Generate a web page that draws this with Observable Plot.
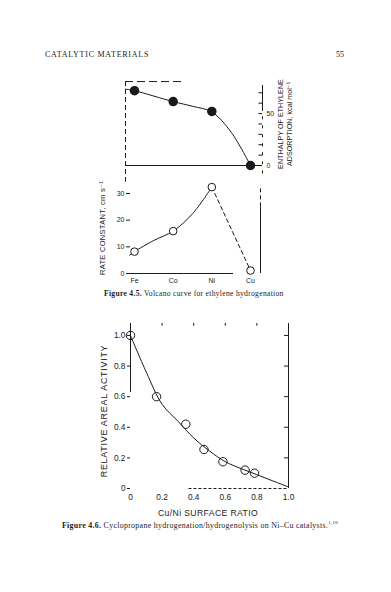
<!DOCTYPE html>
<html>
<head>
<meta charset="utf-8">
<script src="https://cdn.jsdelivr.net/npm/d3@7"></script>
<script src="https://cdn.jsdelivr.net/npm/@observablehq/plot@0.6"></script>
<style>
  html, body { margin:0; padding:0; background:#fff; }
  #page { position:relative; width:391px; height:592px; overflow:hidden; background:#fff; color:#222; }
  #page svg { position:absolute; left:0; top:0; }
  .t { position:absolute; white-space:nowrap; line-height:1; }
  .serif { font-family:"Liberation Serif","DejaVu Serif",serif; }
  .sans { font-family:"Liberation Sans","DejaVu Sans",sans-serif; }
  .rot { transform:translate(-50%,-50%) rotate(-90deg); }
  .ctr { transform:translate(-50%,-50%); }
</style>
</head>
<body>
<div id="page">
  <div class="t serif" style="left:45px;top:51px;font-size:8px;letter-spacing:0.75px;">CATALYTIC MATERIALS</div>
  <div class="t serif" style="left:336px;top:51px;font-size:8px;">55</div>

  <div class="t sans rot" style="left:281px;top:124px;font-size:7.2px;">ENTHALPY OF ETHYLENE</div>
  <div class="t sans rot" style="left:290px;top:124px;font-size:7.2px;">ADSORPTION, kcal mol⁻¹</div>
  <div class="t sans rot" style="left:103px;top:228px;font-size:7.5px;letter-spacing:0.3px;">RATE CONSTANT, cm s⁻¹</div>
  <div class="t serif" style="left:104px;top:290px;font-size:7.6px;letter-spacing:0.3px;"><b>Figure 4.5.</b> Volcano curve for ethylene hydrogenation</div>

  <div class="t sans rot" style="left:104px;top:411px;font-size:9px;letter-spacing:0.7px;">RELATIVE AREAL ACTIVITY</div>
  <div class="t sans ctr" style="left:208px;top:513px;font-size:8.6px;letter-spacing:0.4px;">Cu/Ni SURFACE RATIO</div>
  <div class="t serif" style="left:62px;top:520px;font-size:7.9px;letter-spacing:0.3px;"><b>Figure 4.6.</b> Cyclopropane hydrogenation/hydrogenolysis on Ni–Cu catalysts.<sup style="font-size:5px">1,10</sup></div>
</div>
<script>
// ---------- Data ----------
const metals = ["Fe", "Co", "Ni", "Cu"];
const metalIndex = [0, 1, 2, 3];

// Fig 4.5 top: enthalpy of ethylene adsorption (kcal/mol)
const enthalpy = [72, 61.5, 52, 0];
const enthalpyCurveX = [-0.23, 0, 1, 1.5, 2, 2.5, 3];
const enthalpyCurveY = [73.5, 72, 61.5, 57, 51.5, 32, 0];
const enthalpyTicks = [0, 10, 20, 30, 40, 50, 60, 70];
const enthalpyLabels = [0, 50];

// Fig 4.5 bottom: rate constant
const rate = [8.2, 15.9, 32.4, 1.1];
const rateCurveX = [-0.13, 0, 0.5, 1, 1.5, 2];
const rateCurveY = [6.8, 8.2, 12.4, 15.9, 22.4, 32.4];
const rateTicks = [0, 10, 20, 30];

// Fig 4.6: relative areal activity vs Cu/Ni surface ratio
const ratio = [0, 0.165, 0.35, 0.465, 0.585, 0.725, 0.785];
const activity = [1.0, 0.60, 0.42, 0.255, 0.175, 0.12, 0.10];
const activityCurveX = [0, 0.1, 0.2, 0.3, 0.4, 0.5, 0.6, 0.7, 0.8, 0.9, 1.0];
const activityCurveY = [1.0, 0.76, 0.55, 0.44, 0.33, 0.245, 0.175, 0.13, 0.09, 0.05, 0.01];
const ratioTicks = [0, 0.2, 0.4, 0.6, 0.8, 1.0];
const activityTicks = [0, 0.2, 0.4, 0.6, 0.8, 1.0];

// ---------- Layout helpers ----------
const W = 391, H = 592;
const ink = "#1a1a1a";
const pxPerMetal = (250 - 134) / 3;
const xAt = px => (px - 134) / pxPerMetal;   // pixel -> metal index domain

const page = document.getElementById("page");
const base = {width: W, height: H, style: {background: "transparent", overflow: "visible", color: ink}};

// ---------- Chart A: enthalpy ----------
const aPts = metalIndex.map((i, k) => ({x: i, y: enthalpy[k]}));
const aCurve = enthalpyCurveX.map((x, k) => ({x, y: enthalpyCurveY[k]}));
const chartA = Plot.plot({
  ...base,
  marginLeft: 125, marginRight: W - 262, marginTop: 85, marginBottom: H - 165,
  x: {domain: [xAt(125), xAt(262)], axis: null},
  y: {domain: [0, 77], axis: null},
  marks: [
    Plot.ruleX([xAt(125)], {y1: 80.8, y2: -16, stroke: ink, strokeWidth: 1, strokeDasharray: "5,3"}),
    Plot.ruleY([80.8], {x1: xAt(125), x2: xAt(182), stroke: ink, strokeWidth: 1, strokeDasharray: "8,4"}),
    Plot.ruleY([0], {x1: xAt(125), x2: xAt(262), stroke: ink, strokeWidth: 1}),
    Plot.ruleX([xAt(262)], {y1: 52, y2: 77, stroke: ink, strokeWidth: 1}),
    Plot.ruleX([xAt(262)], {y1: -8, y2: 52, stroke: ink, strokeWidth: 1, strokeDasharray: "3,6"}),
    Plot.ruleY(enthalpyTicks, {x1: xAt(258.5), x2: xAt(262), stroke: ink, strokeWidth: 1}),
    Plot.text(enthalpyLabels, {x: xAt(262), y: d => d, text: d => String(d), dx: 4, textAnchor: "start", fontSize: 6.8, fill: ink, fontFamily: "Liberation Sans"}),
    Plot.line(aCurve, {x: "x", y: "y", curve: "catmull-rom", stroke: ink, strokeWidth: 1}),
    Plot.dot(aPts, {x: "x", y: "y", r: 4, fill: ink, stroke: ink})
  ]
});
page.appendChild(chartA);

// ---------- Chart B: rate constant ----------
const bPts = metalIndex.map((i, k) => ({x: i, y: rate[k], m: metals[k]}));
const bCurve = rateCurveX.map((x, k) => ({x, y: rateCurveY[k]}));
const bDash = [{x: 2, y: rate[2]}, {x: 3, y: rate[3]}];
const chartB = Plot.plot({
  ...base,
  marginLeft: 130, marginRight: W - 260, marginTop: 185, marginBottom: H - 273,
  x: {domain: [xAt(130), xAt(260)], axis: null},
  y: {domain: [0, 33]},
  marks: [
    Plot.axisY(rateTicks, {anchor: "left", tickSize: 4, tickPadding: 2, fontSize: 7, fontFamily: "Liberation Sans", label: null, stroke: ink, fill: ink}),
    Plot.ruleY([0], {x1: xAt(130), x2: xAt(233), stroke: ink, strokeWidth: 1}),
    Plot.ruleX([xAt(260)], {y1: 0, y2: 25, stroke: ink, strokeWidth: 1}),
    Plot.ruleX([xAt(260)], {y1: 25, y2: 33, stroke: ink, strokeWidth: 1, strokeDasharray: "4,3"}),
    Plot.text(bPts, {x: "x", y: 0, text: "m", dy: 7, fontSize: 7, fill: ink, fontFamily: "Liberation Sans"}),
    Plot.line(bCurve, {x: "x", y: "y", curve: "catmull-rom", stroke: ink, strokeWidth: 1}),
    Plot.line(bDash, {x: "x", y: "y", stroke: ink, strokeWidth: 1, strokeDasharray: "4,3"}),
    Plot.dot(bPts, {x: "x", y: "y", r: 3.8, fill: "white", stroke: ink, strokeWidth: 1})
  ]
});
page.appendChild(chartB);

// ---------- Chart C: relative areal activity ----------
const cPts = ratio.map((x, k) => ({x, y: activity[k]}));
const cCurve = activityCurveX.map((x, k) => ({x, y: activityCurveY[k]}));
const fmt = d => d === 0 ? "0" : d3.format(".1f")(d);
const chartC = Plot.plot({
  ...base,
  marginLeft: 130, marginRight: W - 288, marginTop: 323, marginBottom: H - 488,
  x: {domain: [0, 1]},
  y: {domain: [0, 1.078]},
  marks: [
    Plot.ruleX([0], {y1: 0.627, y2: 1.078, stroke: ink, strokeWidth: 1}),
    Plot.axisY(activityTicks, {anchor: "left", tickSize: 3, tickPadding: 2, tickFormat: fmt, fontSize: 8.3, fontFamily: "Liberation Sans", label: null, stroke: ink, fill: ink}),
    Plot.axisX(ratioTicks, {anchor: "bottom", tickSize: 0, tickPadding: 6, tickFormat: fmt, fontSize: 8.3, fontFamily: "Liberation Sans", label: null, fill: ink}),
    Plot.ruleX([1], {y1: 0, y2: 1.078, stroke: ink, strokeWidth: 1}),
    Plot.ruleY(activityTicks.filter(d => d > 0), {x1: 0.975, x2: 1, stroke: ink, strokeWidth: 1}),
    Plot.ruleX(ratioTicks.filter(d => d > 0 && d < 1), {y1: 1.078, y2: 1.06, stroke: ink, strokeWidth: 1}),
    Plot.ruleY([0], {x1: 0.37, x2: 1, stroke: ink, strokeWidth: 1, strokeDasharray: "3,2"}),
    Plot.line(cCurve, {x: "x", y: "y", curve: "catmull-rom", stroke: ink, strokeWidth: 1}),
    Plot.dot(cPts, {x: "x", y: "y", r: 4.2, fill: "none", stroke: ink, strokeWidth: 1})
  ]
});
page.appendChild(chartC);
</script>
</body>
</html>
